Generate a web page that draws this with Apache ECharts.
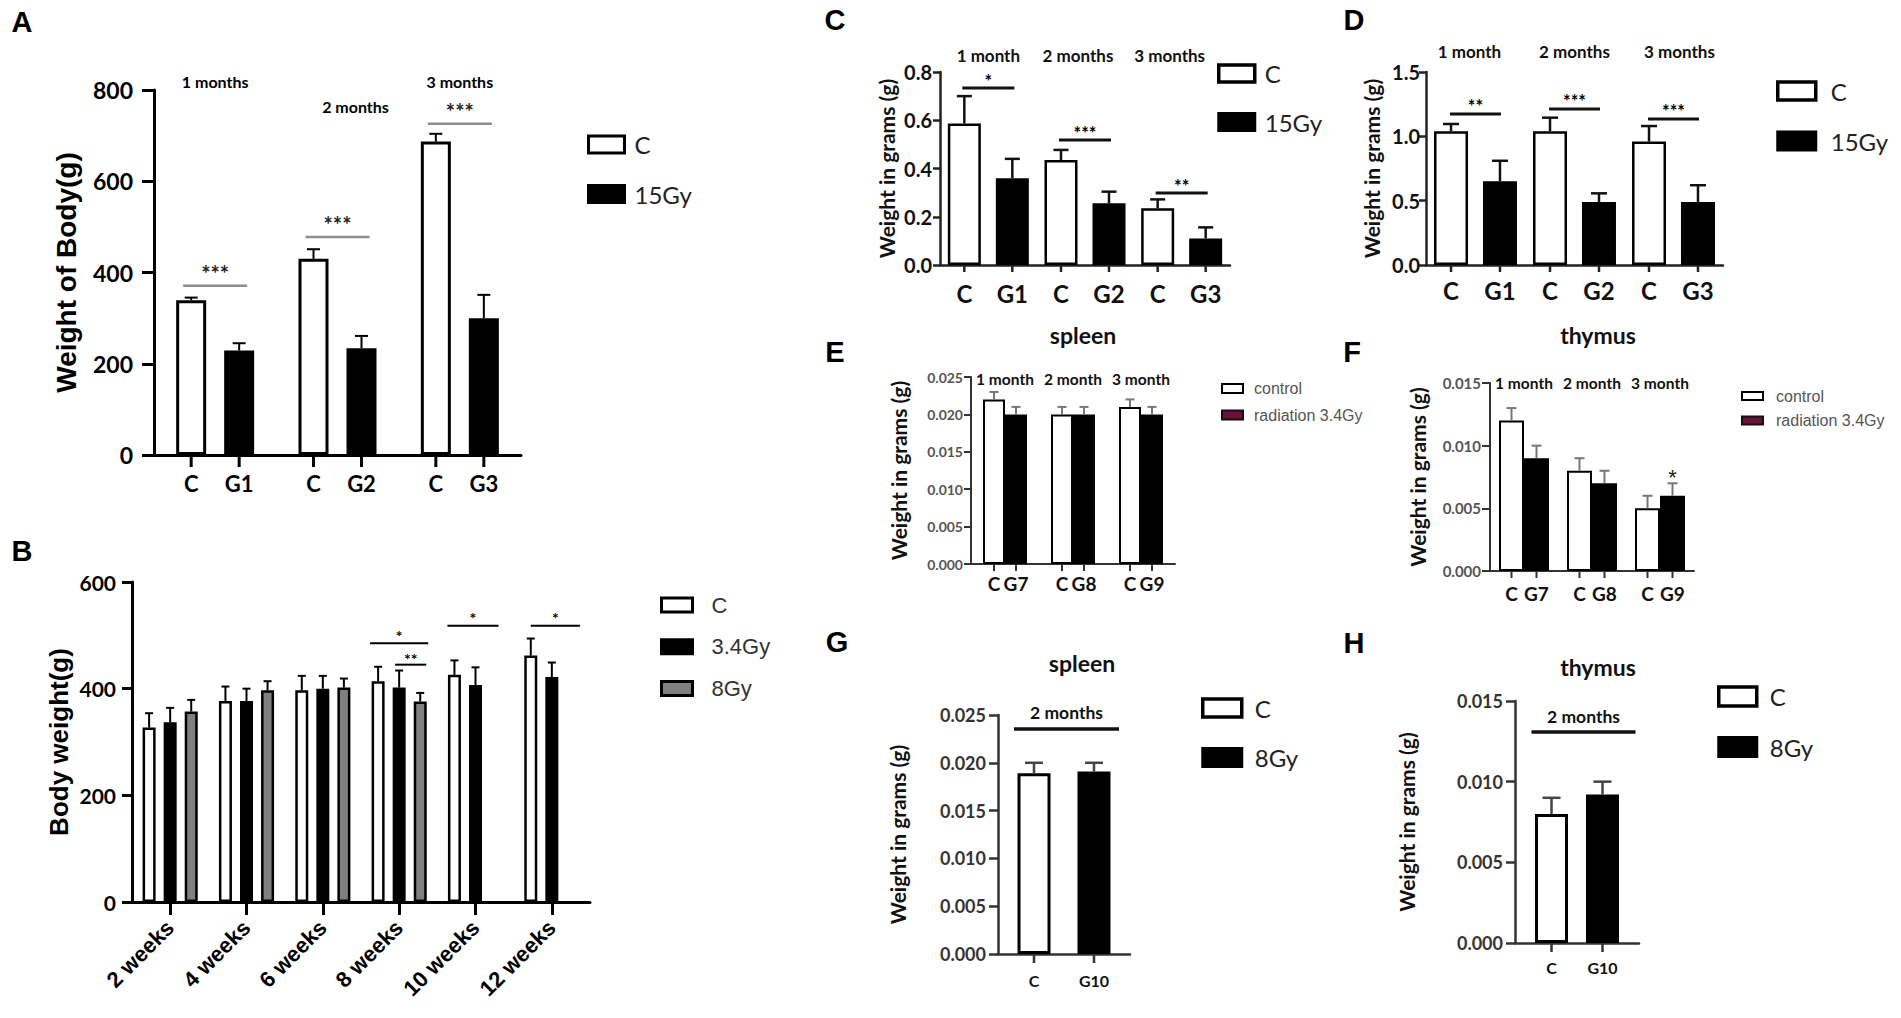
<!DOCTYPE html>
<html>
<head>
<meta charset="utf-8">
<title>Body and organ weight after irradiation</title>
<script src="https://cdn.jsdelivr.net/npm/echarts@6/dist/echarts.min.js"></script>
<style>
  html, body { margin: 0; padding: 0; background: #fff; }
  #chart { width: 1901px; height: 1018px; }
</style>
</head>
<body>
<div id="chart"></div>
<script>
// ---------- data ----------
const A_MONTHS = ['1 months', '2 months', '3 months'];
const A_LABELS = [['C', 'G1'], ['C', 'G2'], ['C', 'G3']];
const A_YTICKS = [0, 200, 400, 600, 800];
const A_CTRL = [339, 430, 687];
const A_CTRL_ERR = [6, 21, 17];
const A_15GY = [229, 234, 300];
const A_15GY_ERR = [16, 27, 51];
const A_SIG = ['***', '***', '***'];

const B_WEEKS = ['2 weeks', '4 weeks', '6 weeks', '8 weeks', '10 weeks', '12 weeks'];
const B_YTICKS = [0, 200, 400, 600];
const B_CTRL = [327, 377, 397, 414, 426, 462];
const B_CTRL_ERR = [27, 27, 27, 27, 27, 32];
const B_34GY = [337, 377, 400, 402, 407, 422];
const B_34GY_ERR = [27, 23, 24, 32, 33, 27];
const B_8GY = [357, 397, 402, 376, null, null];
const B_8GY_ERR = [22, 17, 17, 16, null, null];
const B_SIG = ['*', '**', '*', '*'];

const C_MONTHS = ['1 month', '2 months', '3 months'];
const C_LABELS = [['C', 'G1'], ['C', 'G2'], ['C', 'G3']];
const C_YTICKS = [0, 0.2, 0.4, 0.6, 0.8];
const C_CTRL = [0.587, 0.435, 0.235];
const C_CTRL_ERR = [0.113, 0.042, 0.037];
const C_15GY = [0.36, 0.256, 0.11];
const C_15GY_ERR = [0.08, 0.048, 0.046];
const C_SIG = ['*', '***', '**'];

const D_MONTHS = ['1 month', '2 months', '3 months'];
const D_LABELS = [['C', 'G1'], ['C', 'G2'], ['C', 'G3']];
const D_YTICKS = [0, 0.5, 1.0, 1.5];
const D_CTRL = [1.04, 1.04, 0.96];
const D_CTRL_ERR = [0.056, 0.105, 0.12];
const D_15GY = [0.65, 0.49, 0.49];
const D_15GY_ERR = [0.16, 0.067, 0.13];
const D_SIG = ['**', '***', '***'];

const E_MONTHS = ['1 month', '2 month', '3 month'];
const E_LABELS = [['C', 'G7'], ['C', 'G8'], ['C', 'G9']];
const E_YTICKS = [0, 0.005, 0.010, 0.015, 0.020, 0.025];
const E_CTRL = [0.022, 0.020, 0.021];
const E_CTRL_ERR = [0.001, 0.001, 0.001];
const E_34GY = [0.020, 0.020, 0.020];
const E_34GY_ERR = [0.001, 0.001, 0.001];

const F_MONTHS = ['1 month', '2 month', '3 month'];
const F_LABELS = [['C', 'G7'], ['C', 'G8'], ['C', 'G9']];
const F_YTICKS = [0, 0.005, 0.010, 0.015];
const F_CTRL = [0.012, 0.008, 0.005];
const F_CTRL_ERR = [0.001, 0.001, 0.001];
const F_34GY = [0.009, 0.007, 0.006];
const F_34GY_ERR = [0.001, 0.001, 0.001];
const F_SIG = ['*'];

const G_PERIOD = ['2 months'];
const G_LABELS = [['C', 'G10']];
const G_YTICKS = [0, 0.005, 0.010, 0.015, 0.020, 0.025];
const G_CTRL = [0.0189];
const G_CTRL_ERR = [0.0011];
const G_8GY = [0.0191];
const G_8GY_ERR = [0.0009];

const H_PERIOD = ['2 months'];
const H_LABELS = [['C', 'G10']];
const H_YTICKS = [0, 0.005, 0.010, 0.015];
const H_CTRL = [0.008];
const H_CTRL_ERR = [0.001];
const H_8GY = [0.0092];
const H_8GY_ERR = [0.0008];

// ---------- styles ----------
const CAL = 'Lato, "Open Sans", sans-serif';
const ARIAL = '"Liberation Sans", Arial, sans-serif';

const font = (family, size, weight, color) => ({ fontFamily: family, fontSize: size, fontWeight: weight, color: color });
const css = f => `${f.fontWeight} ${f.fontSize}px ${f.fontFamily}`;

const white = bw => ({ color: '#fff', borderColor: '#000', borderWidth: bw });
const black = bw => ({ color: '#000', borderColor: '#000', borderWidth: bw });

const option = {
  animation: false,
  backgroundColor: '#fff',
  grid: [], xAxis: [], yAxis: [], series: [], legend: [], graphic: []
};

function errorSeries(xi, yi, values, errs, off, st) {
  return {
    type: 'custom', xAxisIndex: xi, yAxisIndex: yi, silent: true, z: 3,
    data: values.map((v, i) => (v == null ? null : [i, v, errs[i]])).filter(d => d),
    encode: { x: 0, y: 1 },
    renderItem(params, api) {
      const base = api.coord([api.value(0), api.value(1)]);
      const top = api.coord([api.value(0), api.value(1) + api.value(2)]);
      const x = base[0] + off;
      const style = { stroke: st.color, lineWidth: st.width };
      return {
        type: 'group',
        children: [
          { type: 'line', shape: { x1: x, y1: base[1], x2: x, y2: top[1] }, style },
          { type: 'line', shape: { x1: x - st.cap / 2, y1: top[1], x2: x + st.cap / 2, y2: top[1] }, style }
        ]
      };
    }
  };
}

function barTickSeries(xi, yi, count, offsets, len, st) {
  return {
    type: 'custom', xAxisIndex: xi, yAxisIndex: yi, silent: true, z: 3,
    data: Array.from({ length: count }, (_, i) => [i, 0]),
    encode: { x: 0, y: 1 },
    renderItem(params, api) {
      const p = api.coord([api.value(0), 0]);
      return {
        type: 'group',
        children: offsets.map(o => ({
          type: 'line',
          shape: { x1: p[0] + o, y1: p[1], x2: p[0] + o, y2: p[1] + len },
          style: { stroke: st.color, lineWidth: st.width }
        }))
      };
    }
  };
}

function noteSeries(xi, yi, notes, offsets) {
  return {
    type: 'custom', xAxisIndex: xi, yAxisIndex: yi, silent: true, z: 4,
    data: notes.map(a => [a.from[0], a.level]),
    encode: { x: 0, y: 1 },
    renderItem(params, api) {
      const a = notes[params.dataIndex];
      const p1 = api.coord([a.from[0], a.level]);
      const p2 = api.coord([a.to[0], a.level]);
      const x1 = p1[0] + offsets[a.from[1]] - a.ext[0];
      const x2 = p2[0] + offsets[a.to[1]] + a.ext[1];
      const y = p1[1];
      const children = [];
      if (a.line) {
        children.push({ type: 'line', shape: { x1, y1: y, x2, y2: y }, style: { stroke: a.line.color, lineWidth: a.line.width } });
      }
      children.push({
        type: 'text',
        style: {
          text: a.text, x: (x1 + x2) / 2, y: y - a.textGap, fill: a.font.color, font: css(a.font),
          align: 'center', verticalAlign: 'middle', textAlign: 'center', textVerticalAlign: 'middle'
        }
      });
      return { type: 'group', children };
    }
  };
}

function addPanel(p) {
  const gi = option.grid.length;
  const n = p.series.length;
  const step = p.barWidth * (1 + p.gap);
  const offsets = p.series.map((s, k) => (k - (n - 1) / 2) * step);
  const axisStyle = { color: p.axis.color, width: p.axis.width };

  option.grid.push({
    left: p.box[0], top: p.box[1], width: p.box[2], height: p.box[3],
    containLabel: false, outerBoundsMode: 'none'
  });

  const xi = option.xAxis.length;
  const bottom = {
    type: 'category', gridIndex: gi, data: p.cats,
    axisLine: { show: true, onZero: true, lineStyle: axisStyle },
    axisTick: { show: false },
    splitLine: { show: false },
    axisLabel: Object.assign({ interval: 0, margin: p.xLabel.margin, verticalAlign: 'middle' }, p.xLabel.font)
  };
  if (p.barLabels) {
    const rich = {};
    p.barLabels[0].forEach((_, k) => { rich['b' + k] = Object.assign({ width: step, align: 'center' }, p.xLabel.font); });
    bottom.axisLabel.formatter = (v, i) => p.barLabels[i].map((t, k) => `{b${k}|${t}}`).join('');
    bottom.axisLabel.rich = rich;
  }
  if (p.xAxisExtra) {
    bottom.axisTick = p.xAxisExtra.axisTick;
    Object.assign(bottom.axisLabel, p.xAxisExtra.axisLabel);
  }
  option.xAxis.push(bottom);

  if (p.top) {
    const shift = p.top.shift || {};
    const rich = {};
    Object.keys(shift).forEach(k => { rich['s' + k] = Object.assign({ padding: shift[k] }, p.top.font); });
    option.xAxis.push({
      type: 'category', gridIndex: gi, position: 'top', data: p.cats,
      axisLine: { show: false, onZero: false },
      axisTick: { show: false },
      splitLine: { show: false },
      axisLabel: Object.assign({
        interval: 0, margin: p.top.margin, verticalAlign: 'middle', rich,
        formatter: (v, i) => (shift[i] ? `{s${i}|${v}}` : v)
      }, p.top.font)
    });
  }

  const yi = option.yAxis.length;
  option.yAxis.push({
    type: 'value', gridIndex: gi,
    min: p.yTicks[0], max: p.yTicks[p.yTicks.length - 1], interval: p.yTicks[1] - p.yTicks[0],
    axisLine: { show: true, lineStyle: axisStyle },
    axisTick: { show: true, length: p.yTickLen, lineStyle: axisStyle },
    splitLine: { show: false },
    axisLabel: Object.assign({ margin: p.yLabel.margin, formatter: p.fmt }, p.yLabel.font),
    name: p.yName.text, nameLocation: 'middle', nameRotate: 90, nameGap: p.yName.gap,
    nameTextStyle: p.yName.font
  });

  p.series.forEach((s, k) => {
    option.series.push({
      type: 'bar', name: s.name, xAxisIndex: xi, yAxisIndex: yi, data: s.data,
      barWidth: p.barWidth, barGap: (p.gap * 100) + '%', itemStyle: s.style, silent: true, z: 2
    });
    option.series.push(errorSeries(xi, yi, s.data, s.err, offsets[k], p.errStyle));
  });

  if (p.barTickLen) {
    option.series.push(barTickSeries(xi, yi, p.cats.length, offsets, p.barTickLen, axisStyle));
  }
  if (p.notes) option.series.push(noteSeries(xi, yi, p.notes, offsets));

  const lg = p.legend;
  option.legend.push({
    orient: 'vertical', left: lg.left, top: lg.top, padding: 0,
    itemWidth: lg.w, itemHeight: lg.h, itemGap: lg.gap, icon: 'rect', selectedMode: false,
    data: lg.items.map(it => ({ name: it.name, itemStyle: it.style })),
    textStyle: Object.assign({ lineHeight: lg.lineHeight, padding: [0, 0, 0, lg.pad] }, lg.font)
  });
}

const ORGAN_NAME = font(CAL, 21, 'bold', '#111');

// ---------- panel A ----------
const A_STAR = font(CAL, 22, 'bold', '#222');
addPanel({
  box: [154, 90, 367, 365],
  cats: A_MONTHS, barLabels: A_LABELS, yTicks: A_YTICKS, fmt: v => String(v),
  axis: { color: '#000', width: 3 }, yTickLen: 12, barTickLen: 12,
  barWidth: 30, gap: 0.6,
  yLabel: { margin: 21, font: font(CAL, 23, 'bold', '#000') },
  yName: { text: 'Weight of Body(g)', gap: 74, font: font(ARIAL, 28, 'bold', '#000') },
  xLabel: { margin: 28, font: font(CAL, 22, 'bold', '#000') },
  top: { margin: 9, font: font(CAL, 16, 'bold', '#000'), shift: { 1: [50, 0, 0, 36] } },
  series: [
    { name: 'C', data: A_CTRL, err: A_CTRL_ERR, style: white(3) },
    { name: '15Gy', data: A_15GY, err: A_15GY_ERR, style: black(3) }
  ],
  errStyle: { color: '#000', width: 2, cap: 13 },
  notes: A_SIG.map((t, i) => ({
    from: [i, 0], to: [i, 1], level: [371, 478, 726][i], ext: [8, 8], text: t, textGap: 12,
    font: A_STAR, line: { color: '#8c8c8c', width: 2.5 }
  })),
  legend: {
    left: 587, top: 130.5, w: 36, h: 17, gap: 21.5, lineHeight: 28, pad: 5,
    font: font(CAL, 24, 'normal', '#222'),
    items: [{ name: 'C', style: white(3) }, { name: '15Gy', style: black(3) }]
  }
});

// ---------- panel B ----------
const B_STAR = font(CAL, 16, 'bold', '#000');
const B_LINE = { color: '#000', width: 2 };
addPanel({
  box: [132, 582, 458, 320],
  cats: B_WEEKS, yTicks: B_YTICKS, fmt: v => String(v),
  axis: { color: '#000', width: 3 }, yTickLen: 10,
  barWidth: 13, gap: 0.62,
  yLabel: { margin: 16, font: font(CAL, 21, 'bold', '#000') },
  yName: { text: 'Body weight(g)', gap: 60, font: font(ARIAL, 26, 'bold', '#000') },
  xLabel: { margin: 22, font: font(ARIAL, 22, 'bold', '#000') },
  xAxisExtra: {
    axisTick: { show: true, alignWithLabel: true, length: 13, lineStyle: { color: '#000', width: 3 } },
    axisLabel: { rotate: 45, verticalAlign: null }
  },
  series: [
    { name: 'C', data: B_CTRL, err: B_CTRL_ERR, style: white(2.5) },
    { name: '3.4Gy', data: B_34GY, err: B_34GY_ERR, style: black(2.5) },
    { name: '8Gy', data: B_8GY, err: B_8GY_ERR, style: { color: '#808080', borderColor: '#000', borderWidth: 2.5 } }
  ],
  errStyle: { color: '#000', width: 2, cap: 8 },
  notes: [
    { from: [3, 0], to: [3, 2], level: 485, ext: [8, 8], text: B_SIG[0], textGap: 8, font: B_STAR, line: B_LINE },
    { from: [3, 1], to: [3, 2], level: 445, ext: [4, 6], text: B_SIG[1], textGap: 6, font: B_STAR, line: B_LINE },
    { from: [4, 0], to: [4, 2], level: 518, ext: [7, 2], text: B_SIG[2], textGap: 8, font: B_STAR, line: B_LINE },
    { from: [5, 0], to: [5, 2], level: 518, ext: [0, 7], text: B_SIG[3], textGap: 8, font: B_STAR, line: B_LINE }
  ],
  legend: {
    left: 660, top: 592, w: 31, h: 14, gap: 15.8, lineHeight: 26, pad: 14,
    font: font(ARIAL, 22, 'normal', '#333'),
    items: [
      { name: 'C', style: white(3) },
      { name: '3.4Gy', style: black(3) },
      { name: '8Gy', style: { color: '#808080', borderColor: '#000', borderWidth: 3 } }
    ]
  }
});

// ---------- panel C ----------
const CD_STAR = font(CAL, 18, 'bold', '#000');
addPanel({
  box: [940, 72, 290, 193],
  cats: C_MONTHS, barLabels: C_LABELS, yTicks: C_YTICKS, fmt: v => v.toFixed(1),
  axis: { color: '#222', width: 2.5 }, yTickLen: 7, barTickLen: 7,
  barWidth: 33, gap: 0.4545,
  yLabel: { margin: 8, font: font(CAL, 20, 'bold', '#111') },
  yName: { text: 'Weight in grams (g)', gap: 43, font: ORGAN_NAME },
  xLabel: { margin: 28, font: font(CAL, 24, 'bold', '#111') },
  top: { margin: 17, font: font(CAL, 17, 'bold', '#111'), shift: { 1: [0, 14, 0, 0], 2: [0, 24, 0, 0] } },
  series: [
    { name: 'C', data: C_CTRL, err: C_CTRL_ERR, style: white(2.5) },
    { name: '15Gy', data: C_15GY, err: C_15GY_ERR, style: black(2.5) }
  ],
  errStyle: { color: '#111', width: 2.5, cap: 15 },
  notes: C_SIG.map((t, i) => ({
    from: [i, 0], to: [i, 1], level: [0.734, 0.518, 0.298][i], ext: [2, 2], text: t, textGap: 7,
    font: CD_STAR, line: { color: '#111', width: 3 }
  })),
  legend: {
    left: 1217, top: 59.5, w: 36, h: 17, gap: 20.5, lineHeight: 28, pad: 5,
    font: font(CAL, 24, 'normal', '#222'),
    items: [{ name: 'C', style: white(3.5) }, { name: '15Gy', style: black(3) }]
  }
});

// ---------- panel D ----------
addPanel({
  box: [1426, 72, 297, 193],
  cats: D_MONTHS, barLabels: D_LABELS, yTicks: D_YTICKS, fmt: v => v.toFixed(1),
  axis: { color: '#222', width: 2.5 }, yTickLen: 7, barTickLen: 7,
  barWidth: 34, gap: 0.44,
  yLabel: { margin: 6, font: font(CAL, 20, 'bold', '#111') },
  yName: { text: 'Weight in grams (g)', gap: 44, font: ORGAN_NAME },
  xLabel: { margin: 25, font: font(CAL, 24, 'bold', '#111') },
  top: { margin: 21, font: font(CAL, 17, 'bold', '#111'), shift: { 0: [0, 12, 0, 0], 2: [0, 0, 0, 12] } },
  series: [
    { name: 'C', data: D_CTRL, err: D_CTRL_ERR, style: white(2.5) },
    { name: '15Gy', data: D_15GY, err: D_15GY_ERR, style: black(2.5) }
  ],
  errStyle: { color: '#111', width: 2.5, cap: 16 },
  notes: D_SIG.map((t, i) => ({
    from: [i, 0], to: [i, 1], level: [1.173, 1.212, 1.134][i], ext: [1, 1], text: t, textGap: 8,
    font: CD_STAR, line: { color: '#111', width: 3 }
  })),
  legend: {
    left: 1776, top: 77, w: 38, h: 18, gap: 22, lineHeight: 28, pad: 10,
    font: font(CAL, 24, 'normal', '#222'),
    items: [{ name: 'C', style: white(3.5) }, { name: '15Gy', style: black(3) }]
  }
});

// ---------- panel E ----------
const MAROON = { color: '#6e1038', borderColor: '#111', borderWidth: 2 };
addPanel({
  box: [971, 377, 204, 187],
  cats: E_MONTHS, barLabels: E_LABELS, yTicks: E_YTICKS, fmt: v => v.toFixed(3),
  axis: { color: '#333', width: 2 }, yTickLen: 7, barTickLen: 7,
  barWidth: 22, gap: 0,
  yLabel: { margin: 8, font: font(CAL, 14, 'bold', '#555') },
  yName: { text: 'Weight in grams (g)', gap: 62, font: ORGAN_NAME },
  xLabel: { margin: 19, font: font(CAL, 19, 'bold', '#111') },
  top: { margin: -2, font: font(CAL, 15.5, 'bold', '#111') },
  series: [
    { name: 'control', data: E_CTRL, err: E_CTRL_ERR, style: white(2) },
    { name: 'radiation 3.4Gy', data: E_34GY, err: E_34GY_ERR, style: black(2) }
  ],
  errStyle: { color: '#777', width: 2, cap: 9 },
  legend: {
    left: 1221, top: 379.5, w: 21, h: 9, gap: 8.5, lineHeight: 18, pad: 6,
    font: font(ARIAL, 16, 'normal', '#555'),
    items: [{ name: 'control', style: white(2) }, { name: 'radiation 3.4Gy', style: MAROON }]
  }
});

// ---------- panel F ----------
addPanel({
  box: [1490, 383, 204, 188],
  cats: F_MONTHS, barLabels: F_LABELS, yTicks: F_YTICKS, fmt: v => v.toFixed(3),
  axis: { color: '#333', width: 2 }, yTickLen: 8, barTickLen: 7,
  barWidth: 25, gap: 0,
  yLabel: { margin: 9, font: font(CAL, 15, 'bold', '#555') },
  yName: { text: 'Weight in grams (g)', gap: 62, font: ORGAN_NAME },
  xLabel: { margin: 22, font: font(CAL, 19, 'bold', '#111') },
  top: { margin: 0, font: font(CAL, 15.5, 'bold', '#111') },
  series: [
    { name: 'control', data: F_CTRL, err: F_CTRL_ERR, style: white(2) },
    { name: 'radiation 3.4Gy', data: F_34GY, err: F_34GY_ERR, style: black(2) }
  ],
  errStyle: { color: '#777', width: 2, cap: 10 },
  notes: [
    { from: [2, 1], to: [2, 1], level: 0.0078, ext: [0, 0], text: F_SIG[0], textGap: -4, font: font(ARIAL, 22, 'normal', '#222') }
  ],
  legend: {
    left: 1741, top: 387, w: 21, h: 8, gap: 6.5, lineHeight: 18, pad: 8,
    font: font(ARIAL, 16, 'normal', '#555'),
    items: [{ name: 'control', style: white(2) }, { name: 'radiation 3.4Gy', style: MAROON }]
  }
});

// ---------- panel G ----------
const PERIOD_FONT = font(CAL, 17.5, 'bold', '#111');
addPanel({
  box: [998, 715, 132, 239],
  cats: G_PERIOD, barLabels: G_LABELS, yTicks: G_YTICKS, fmt: v => v.toFixed(3),
  axis: { color: '#333', width: 2.5 }, yTickLen: 9, barTickLen: 9,
  barWidth: 33, gap: 0.818,
  yLabel: { margin: 12, font: font(CAL, 18, 'bold', '#333') },
  yName: { text: 'Weight in grams (g)', gap: 90, font: ORGAN_NAME },
  xLabel: { margin: 26, font: font(CAL, 16, 'bold', '#111') },
  series: [
    { name: 'C', data: G_CTRL, err: G_CTRL_ERR, style: white(3) },
    { name: '8Gy', data: G_8GY, err: G_8GY_ERR, style: black(3) }
  ],
  errStyle: { color: '#444', width: 2.5, cap: 18 },
  notes: [
    { from: [0, 0], to: [0, 1], level: 0.02354, ext: [20, 25], text: G_PERIOD[0], textGap: 16, font: PERIOD_FONT, line: { color: '#111', width: 3.5 } }
  ],
  legend: {
    left: 1201, top: 694, w: 39, h: 18, gap: 21.5, lineHeight: 28, pad: 8,
    font: font(CAL, 24, 'normal', '#222'),
    items: [{ name: 'C', style: white(3.5) }, { name: '8Gy', style: black(3) }]
  }
});

// ---------- panel H ----------
addPanel({
  box: [1515, 701, 124, 242],
  cats: H_PERIOD, barLabels: H_LABELS, yTicks: H_YTICKS, fmt: v => v.toFixed(3),
  axis: { color: '#333', width: 2.5 }, yTickLen: 9, barTickLen: 9,
  barWidth: 33, gap: 0.545,
  yLabel: { margin: 12, font: font(CAL, 18, 'bold', '#333') },
  yName: { text: 'Weight in grams (g)', gap: 98, font: ORGAN_NAME },
  xLabel: { margin: 24, font: font(CAL, 16, 'bold', '#111') },
  series: [
    { name: 'C', data: H_CTRL, err: H_CTRL_ERR, style: white(3) },
    { name: '8Gy', data: H_8GY, err: H_8GY_ERR, style: black(3) }
  ],
  errStyle: { color: '#444', width: 2.5, cap: 18 },
  notes: [
    { from: [0, 0], to: [0, 1], level: 0.01308, ext: [20, 33], text: H_PERIOD[0], textGap: 15, font: PERIOD_FONT, line: { color: '#111', width: 3.5 } }
  ],
  legend: {
    left: 1717, top: 682.5, w: 38, h: 19, gap: 22.5, lineHeight: 28, pad: 8,
    font: font(CAL, 24, 'normal', '#222'),
    items: [{ name: 'C', style: white(3.5) }, { name: '8Gy', style: black(3) }]
  }
});

// ---------- panel letters and organ titles ----------
const LETTER = font(ARIAL, 29, 'bold', '#000');
const TITLE = font(CAL, 23, 'bold', '#111');
[
  ['A', 22, 22, LETTER], ['B', 22, 551, LETTER], ['C', 835, 20, LETTER], ['D', 1354, 20, LETTER],
  ['E', 835, 352, LETTER], ['F', 1352, 352, LETTER], ['G', 837, 642, LETTER], ['H', 1354, 643, LETTER],
  ['spleen', 1083, 335, TITLE], ['thymus', 1598, 335, TITLE],
  ['spleen', 1082, 663, TITLE], ['thymus', 1598, 667, TITLE]
].forEach(([text, x, y, f]) => {
  option.graphic.push({
    type: 'text', x, y, silent: true,
    style: {
      text, fill: f.color, font: css(f),
      align: 'center', verticalAlign: 'middle', textAlign: 'center', textVerticalAlign: 'middle'
    }
  });
});

const chart = echarts.init(document.getElementById('chart'), null, { renderer: 'svg' });
chart.setOption(option);
</script>
</body>
</html>
